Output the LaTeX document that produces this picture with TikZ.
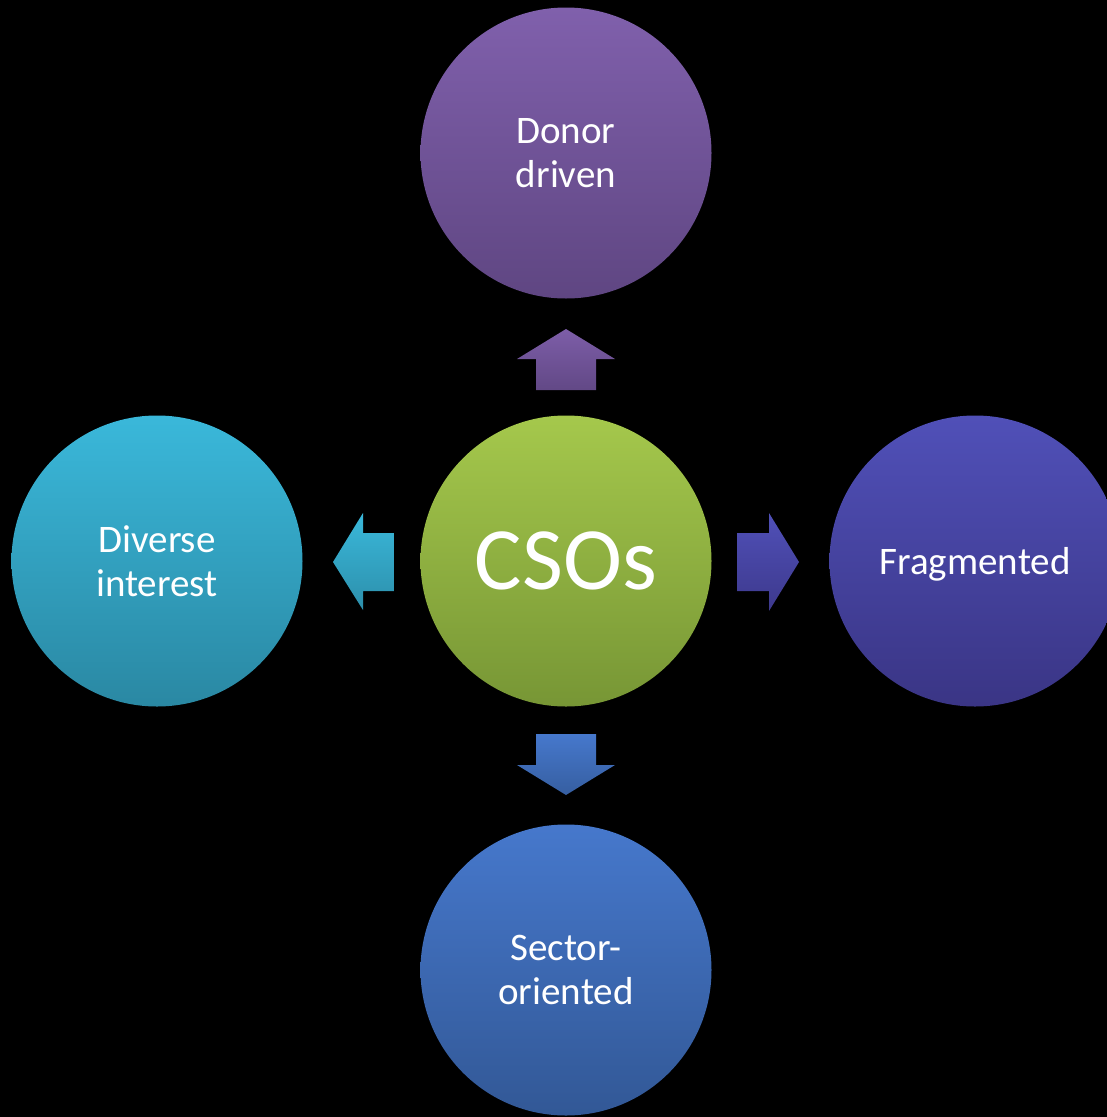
\documentclass[tikz,border=0pt]{standalone}
\usepackage{fontspec}
\setmainfont{Carlito}
\definecolor{purT}{HTML}{8060AC}
\definecolor{purB}{HTML}{5F4682}
\definecolor{grnT}{HTML}{A5C84C}
\definecolor{grnB}{HTML}{779635}
\definecolor{cyaT}{HTML}{3AB8DA}
\definecolor{cyaB}{HTML}{2A88A3}
\definecolor{indT}{HTML}{5050B8}
\definecolor{indB}{HTML}{3A3585}
\definecolor{bluT}{HTML}{4678CC}
\definecolor{bluB}{HTML}{325896}
\tikzset{
  bubble/.style={circle, minimum size=291pt, inner sep=0pt, text=white, align=center,
    font=\fontsize{39}{44}\selectfont},
  blockarrow/.style={draw=none}
}
\begin{document}
\begin{tikzpicture}[x=1pt,y=-1pt]
\fill[black] (0,0) rectangle (1107,1117);
\useasboundingbox (0,0) rectangle (1107,1117);
\clip (0,0) rectangle (1107,1117);

\node[bubble, top color=purT, bottom color=purB] (donor) at (566,153) {Donor\\driven};
\node[bubble, top color=grnT, bottom color=grnB, font=\fontsize{89}{100}\selectfont] (cso) at (566,561) {CSOs};
\node[bubble, top color=cyaT, bottom color=cyaB] (diverse) at (157,561) {Diverse\\interest};
\node[bubble, top color=indT, bottom color=indB, text depth=0pt] (frag) at (975,561) {Fragmented};
\node[bubble, top color=bluT, bottom color=bluB] (sector) at (566,970) {Sector-\\oriented};

% block arrows
\shade[blockarrow, top color=purT!90!purB, bottom color=purB!90!purT]
  (566,329) -- (615,359) -- (596,359) -- (596,390) -- (536,390) -- (536,359) -- (517,359) -- cycle;
\shade[blockarrow, top color=bluT, bottom color=bluB!80!bluT]
  (536,734) -- (596,734) -- (596,765) -- (615,765) -- (566,795) -- (517,765) -- (536,765) -- cycle;
\shade[blockarrow, top color=cyaT, bottom color=cyaB!85!cyaT]
  (333,562) -- (363,513) -- (363,533) -- (394,533) -- (394,591) -- (363,591) -- (363,610) -- cycle;
\shade[blockarrow, top color=indT, bottom color=indB!85!indT]
  (737,533) -- (769,533) -- (769,513) -- (799,562) -- (769,611) -- (769,591) -- (737,591) -- cycle;
\end{tikzpicture}
\end{document}
